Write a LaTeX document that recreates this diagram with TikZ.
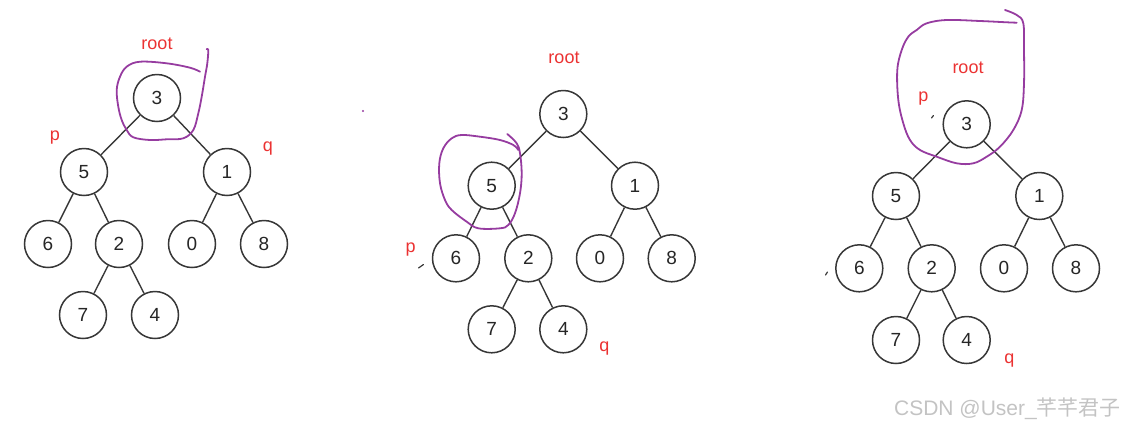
\documentclass[tikz,border=0pt]{standalone}
\usepackage{fontspec}
\setmainfont{Liberation Sans}
\newfontfamily\cjkfont{Noto Sans CJK SC}
\definecolor{lbl}{RGB}{235,50,50}
\definecolor{hand}{RGB}{150,60,160}
\definecolor{edge}{RGB}{55,55,55}
\definecolor{wm}{RGB}{195,195,195}
\tikzset{
  tn/.style={circle, draw=edge, line width=1.5pt, minimum size=47pt, inner sep=0pt, fill=white, font=\fontsize{19}{22}\selectfont, text=black!85},
  tedge/.style={draw=edge, line width=1.4pt},
  lab/.style={text=lbl, font=\fontsize{18}{20}\selectfont, inner sep=0pt},
  pen/.style={draw=hand, line width=1.8pt, line cap=round, line join=round},
  stray/.style={draw=edge, line width=1.2pt, line cap=round}
}
\begin{document}
\begin{tikzpicture}[x=1pt,y=-1pt]
\useasboundingbox (0,0) rectangle (1124,429);
% ---------- tree 1 ----------
\node[tn] (a3) at (157,98) {3};
\node[tn] (a5) at (84,172) {5};
\node[tn] (a1) at (227,172) {1};
\node[tn] (a6) at (48,244) {6};
\node[tn] (a2) at (119,244) {2};
\node[tn] (a0) at (192,244) {0};
\node[tn] (a8) at (264,244) {8};
\node[tn] (a7) at (83,315) {7};
\node[tn] (a4) at (155,315) {4};
\draw[tedge] (a3) -- (a5); \draw[tedge] (a3) -- (a1);
\draw[tedge] (a5) -- (a6); \draw[tedge] (a5) -- (a2);
\draw[tedge] (a1) -- (a0); \draw[tedge] (a1) -- (a8);
\draw[tedge] (a2) -- (a7); \draw[tedge] (a2) -- (a4);
\node[lab] (aroot) at (157,44) {root};
\node[lab] (ap) at (55,138) {p};
\node[lab] (aq) at (268,149) {q};
\draw[pen] plot[smooth, tension=0.6] coordinates {(200,71.7) (190,67.7) (166.7,63.3) (140,61.7) (126.7,66.7) (120,76.7) (116.7,90) (118.3,106.7) (121.7,120) (126.7,130) (133.3,137.3) (150,140) (166.7,139.3) (183.3,138.3) (193.3,130) (198.3,113.3) (201.7,96.7) (205,76.7) (207.3,63.3) (208.3,50) (206.7,49.3)};
% ---------- tree 2 ----------
\node[tn] (b3) at (563.3,114) {3};
\node[tn] (b5) at (491.7,185.7) {5};
\node[tn] (b1) at (635,185.7) {1};
\node[tn] (b6) at (456,258.3) {6};
\node[tn] (b2) at (528.3,258.3) {2};
\node[tn] (b0) at (600,258.3) {0};
\node[tn] (b8) at (671.7,258.3) {8};
\node[tn] (b7) at (491.7,329.3) {7};
\node[tn] (b4) at (563.3,329.3) {4};
\draw[tedge] (b3) -- (b5); \draw[tedge] (b3) -- (b1);
\draw[tedge] (b5) -- (b6); \draw[tedge] (b5) -- (b2);
\draw[tedge] (b1) -- (b0); \draw[tedge] (b1) -- (b8);
\draw[tedge] (b2) -- (b7); \draw[tedge] (b2) -- (b4);
\node[lab] (broot) at (564,58) {root};
\node[lab] (bp) at (410.7,250) {p};
\node[lab] (bq) at (604.3,349) {q};
\draw[pen] plot[smooth, tension=0.6] coordinates {(507.3,134) (516.7,143.3) (520,153.3) (521.7,173.3) (520,193.3) (515,213.3) (508.3,225) (500,228.3) (478.3,228.3) (466.7,221.7) (451.7,210) (445,200) (440,183.3) (439.3,163.3) (443.3,148.3) (451.7,138.3) (461.7,135) (480,136.7) (500,140) (513.3,145) (518.3,150)};
\coordinate (bs1) at (418.5,268); \coordinate (bs2) at (423.5,264.5);
\draw[stray] (bs1) -- (bs2);
\coordinate (dot) at (363,111);
\fill[hand] (dot) circle (1.2pt);
% ---------- tree 3 ----------
\node[tn] (c3) at (966.7,124.3) {3};
\node[tn] (c5) at (896,196) {5};
\node[tn] (c1) at (1039.3,196) {1};
\node[tn] (c6) at (859.3,268.3) {6};
\node[tn] (c2) at (931.7,268.3) {2};
\node[tn] (c0) at (1004,268.3) {0};
\node[tn] (c8) at (1076,268.3) {8};
\node[tn] (c7) at (896,340) {7};
\node[tn] (c4) at (966.7,340) {4};
\draw[tedge] (c3) -- (c5); \draw[tedge] (c3) -- (c1);
\draw[tedge] (c5) -- (c6); \draw[tedge] (c5) -- (c2);
\draw[tedge] (c1) -- (c0); \draw[tedge] (c1) -- (c8);
\draw[tedge] (c2) -- (c7); \draw[tedge] (c2) -- (c4);
\node[lab] (croot) at (968,68) {root};
\node[lab] (cp) at (923.3,99) {p};
\node[lab] (cq) at (1009.3,360.5) {q};
\draw[pen] plot[smooth, tension=0.6] coordinates {(1005,10) (1016.7,15) (1023.3,23.3) (1024,50) (1024,83.3) (1021.7,110) (1013.3,130) (1000,146.7) (986.7,156.7) (973.3,163.3) (956.7,163.3) (936.7,156.7) (920,150) (910,140) (903.3,123.3) (898.3,100) (897.3,70) (901.7,50) (908.3,36.7) (916.7,30) (926.7,23.3) (946.7,20) (980,21) (1006.7,22.3) (1016.7,22.7)};
\coordinate (cs1) at (931.5,118); \coordinate (cs2) at (933.5,115.5);
\draw[stray] (cs1) -- (cs2);
\coordinate (cs3) at (825.5,275); \coordinate (cs4) at (827.5,272);
\draw[stray] (cs3) -- (cs4);
% ---------- watermark ----------
\node[text=wm, font=\fontsize{21}{24}\selectfont, anchor=east, inner sep=0pt] (wmk) at (1121,409) {CSDN @User\_{\cjkfont 芊芊君子}};
\end{tikzpicture}
\end{document}
